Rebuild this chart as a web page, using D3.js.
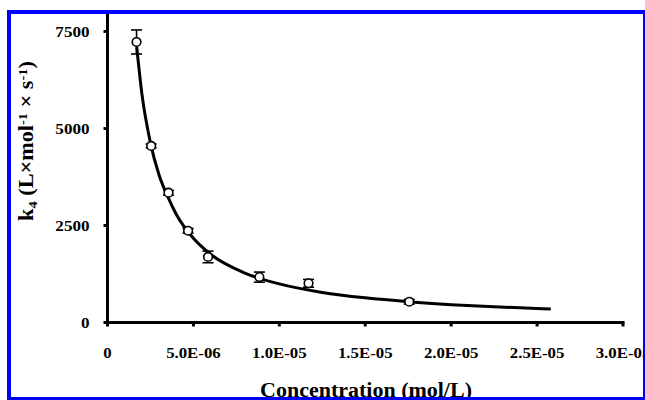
<!DOCTYPE html>
<html><head><meta charset="utf-8">
<script src="https://cdn.jsdelivr.net/npm/d3@7"></script>
<style>
body{margin:0;background:#fff;}
svg{display:block;}
text{font-family:"Liberation Serif","Times New Roman",serif;font-weight:bold;fill:#000;}
</style></head>
<body>
<svg id="chart" width="645" height="400"></svg>
<script>
// Data
const concentration = [1.69e-6, 2.54e-6, 3.55e-6, 4.69e-6, 5.85e-6, 8.84e-6, 1.17e-5, 1.756e-5];
const k4Values      = [7230, 4550, 3345, 2365, 1690, 1170, 1010, 535];
const k4Errors      = [310, 50, 60, 60, 150, 130, 100, 60];

// Fitted curve as drawn in the figure
const fitX = [1.7e-6, 2.0e-6, 2.5e-6, 3.0e-6, 3.5e-6, 4.0e-6, 5.0e-6, 6.0e-6, 8.0e-6, 1.0e-5, 1.25e-5, 1.5e-5, 1.75e-5, 2.0e-5, 2.25e-5, 2.58e-5];
const fitY = [7100, 5900, 4630, 3800, 3250, 2790, 2170, 1760, 1275, 995, 775, 635, 535, 460, 405, 345];

const xTicks = [0, 5e-6, 1e-5, 1.5e-5, 2e-5, 2.5e-5, 3e-5];
const xTickLabels = ["0", "5.0E-06", "1.0E-05", "1.5E-05", "2.0E-05", "2.5E-05", "3.0E-05"];
const yTicks = [0, 2500, 5000, 7500];

const svg = d3.select("#chart");
const x = d3.scaleLinear().domain([0, 3e-5]).range([107.5, 623]);
const y = d3.scaleLinear().domain([0, 7500]).range([322.5, 31.5]);

function stretch(sel, factor) {
  sel.each(function(){
    const t = d3.select(this);
    const cur = t.attr("transform") || "";
    t.attr("transform", cur + ` scale(${factor},1)`);
  });
}

// y axis
const yAxisG = svg.append("g").attr("transform", `translate(${x(0)},0)`);
yAxisG.append("line").attr("x1",0).attr("x2",0).attr("y1",y(0)+1.5).attr("y2",14)
  .attr("stroke","#000").attr("stroke-width",3);
yAxisG.selectAll("line.tk").data(yTicks).join("line").attr("class","tk")
  .attr("x1",-4).attr("x2",0).attr("y1",d=>y(d)).attr("y2",d=>y(d))
  .attr("stroke","#000").attr("stroke-width",3);
yAxisG.selectAll("text.tl").data(yTicks).join("text").attr("class","tl")
  .attr("transform", d=>`translate(-18,${y(d)+5})`)
  .attr("text-anchor","end").style("font-size","14px")
  .text(d=>d)
  .call(stretch, 1.22);

// x axis
const xAxisG = svg.append("g").attr("transform", `translate(0,${y(0)})`);
xAxisG.append("line").attr("x1",x(0)-1.5).attr("x2",x(3e-5)+1.5).attr("y1",0).attr("y2",0)
  .attr("stroke","#000").attr("stroke-width",3);
xAxisG.selectAll("line.tk").data(xTicks).join("line").attr("class","tk")
  .attr("x1",d=>x(d)).attr("x2",d=>x(d)).attr("y1",0).attr("y2",4)
  .attr("stroke","#000").attr("stroke-width",3);
xAxisG.selectAll("text.tl").data(xTicks).join("text").attr("class","tl")
  .attr("transform", (d)=>`translate(${x(d)},35.5)`)
  .attr("text-anchor","middle").style("font-size","14px")
  .text((d,i)=>xTickLabels[i])
  .call(stretch, 1.2);

// fitted curve
const line = d3.line().x((d,i)=>x(fitX[i])).y((d,i)=>y(fitY[i])).curve(d3.curveMonotoneX);
svg.append("path").datum(fitX).attr("d", line)
  .attr("fill","none").attr("stroke","#000").attr("stroke-width",3);

// error bars
const eg = svg.append("g").attr("stroke","#000").attr("stroke-width",1.6);
concentration.forEach((c,i)=>{
  const cx = x(c), top = y(k4Values[i]+k4Errors[i]), bot = y(k4Values[i]-k4Errors[i]);
  eg.append("line").attr("x1",cx).attr("x2",cx).attr("y1",top).attr("y2",bot);
  eg.append("line").attr("x1",cx-5.5).attr("x2",cx+5.5).attr("y1",top).attr("y2",top);
  eg.append("line").attr("x1",cx-5.5).attr("x2",cx+5.5).attr("y1",bot).attr("y2",bot);
});

// points
svg.append("g").selectAll("circle").data(concentration).join("circle")
  .attr("cx",d=>x(d)).attr("cy",(d,i)=>y(k4Values[i])).attr("r",4.3)
  .attr("fill","#fff").attr("stroke","#000").attr("stroke-width",1.6);

// y title
const yt = svg.append("text").attr("text-anchor","middle")
  .attr("transform","translate(33,141) rotate(-90)")
  .style("font-size","20px");
yt.append("tspan").text("k");
yt.append("tspan").attr("baseline-shift","-25%").style("font-size","13px").text("4");
yt.append("tspan").text(" (L\u00d7mol");
yt.append("tspan").attr("baseline-shift","40%").style("font-size","13px").text("-1");
yt.append("tspan").text(" \u00d7 s");
yt.append("tspan").attr("baseline-shift","40%").style("font-size","13px").text("-1");
yt.append("tspan").text(")");
{
  const len = yt.node().getComputedTextLength();
  yt.attr("transform", `translate(33,141) rotate(-90) scale(${160/len},1)`);
}

// x title
const xt = svg.append("text").attr("text-anchor","middle")
  .attr("transform","translate(366,397)")
  .style("font-size","20px").text("Concentration (mol/L)");
{
  const len = xt.node().getComputedTextLength();
  xt.attr("transform", `translate(366,397) scale(${212/len},1)`);
}

// blue frame
svg.append("rect").attr("x",9).attr("y",12).attr("width",636).attr("height",387)
  .attr("fill","none").attr("stroke","#0000ff").attr("stroke-width",4);
</script>
</body></html>
